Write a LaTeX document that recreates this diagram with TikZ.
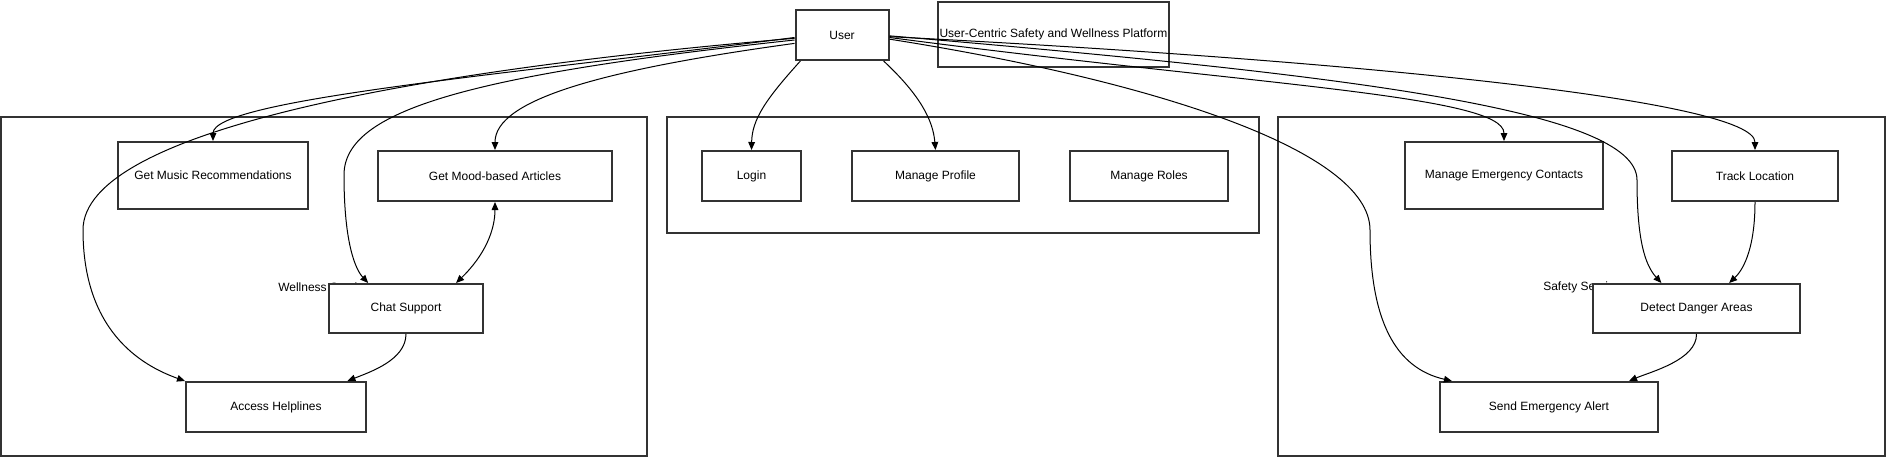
\documentclass[tikz,border=0pt]{standalone}
\usepackage{fontspec}
\setmainfont{Liberation Sans}
\usetikzlibrary{arrows.meta,positioning}
\definecolor{boxgray}{HTML}{333333}

\begin{document}
\begin{tikzpicture}[
x=0.75pt, y=-0.75pt,
node distance=36.75pt,
every node/.style={font=\fontsize{9pt}{11pt}\selectfont},
dims/.style 2 args={minimum width=#1*0.75pt, minimum height=#2*0.75pt},
group/.style={draw=boxgray, line width=1.5pt, inner sep=0pt},
svc/.style={draw=boxgray, line width=1.5pt, fill=white, align=center, inner sep=0pt},
tag/.style={anchor=west, inner sep=0pt},
arrow/.style={-{Triangle[length=6pt,width=5pt]}, line width=0.75pt},
both/.style={{Triangle[length=6pt,width=5pt]}-{Triangle[length=6pt,width=5pt]}, line width=0.75pt}
]
\useasboundingbox (0,0) rectangle (1886,458);

\node[group, dims={646}{339}] (wellness) at (324,286.5) {};
\node[group, dims={592}{116}] (core) at (963,175) {};
\node[group, dims={607}{339}] (safety) at (1581.5,286.5) {};
\node[tag] (welltag) at (278,287) {Wellness Services};
\node[tag] (safetag) at (1543,287) {Safety Services};

\node[svc, dims={93}{50}] (user) at (842,35) {User};
\node[svc, dims={231}{65}] (title) at (1053.5,34.5) {User-Centric Safety and Wellness Platform};

\node[svc, dims={190}{67}] (music) at (213,175.5) {Get Music Recommendations};
\node[svc, dims={234}{50}] (mood) at (495,176) {Get Mood-based Articles};
\node[svc, dims={154}{49}] (chat) at (406,308.5) {Chat Support};
\node[svc, dims={180}{50}] (helplines) at (276,407) {Access Helplines};

\node[svc, dims={99}{50}] (login) at (751.5,176) {Login};
\node[svc, dims={167}{50}, right=of login] (profile) {Manage Profile};
\node[svc, dims={158}{50}, right=of profile] (roles) {Manage Roles};

\node[svc, dims={198}{67}] (contacts) at (1504,175.5) {Manage Emergency Contacts};
\node[svc, dims={166}{50}] (track) at (1755,176) {Track Location};
\node[svc, dims={207}{49}] (detect) at (1696.5,308.5) {Detect Danger Areas};
\node[svc, dims={218}{50}] (alert) at (1549,407) {Send Emergency Alert};

\draw[arrow] (user.183) .. controls (500,75) and (213,100) .. (music.north);
\draw[arrow] (user.184) .. controls (420,70) and (83,130) .. (83,230) .. controls (83,330) and (140,365) .. (helplines.north west);
\draw[arrow] (user.186) .. controls (470,75) and (344,110) .. (344,175) .. controls (344,245) and (356,270) .. (chat.146);
\draw[arrow] (user.190) .. controls (600,70) and (495,100) .. (mood.north);
\draw[arrow] (user.212) .. controls (765,100) and (752,120) .. (login.north);
\draw[arrow] (user.328) .. controls (920,95) and (933,120) .. (profile.north);
\draw[arrow] (user.357) .. controls (1250,85) and (1504,95) .. (contacts.north);
\draw[arrow] (user.358) .. controls (1350,60) and (1755,100) .. (track.north);
\draw[arrow] (user.359) .. controls (1350,75) and (1637,110) .. (1637,180) .. controls (1637,240) and (1645,265) .. (detect.144);
\draw[arrow] (user.355) .. controls (1150,80) and (1370,150) .. (1370,230) .. controls (1370,320) and (1395,368) .. (alert.165);
\draw[both] (chat.27) .. controls (485,255) and (495,230) .. (mood.south);
\draw[arrow] (chat.south) .. controls (406,360) and (370,372) .. (helplines.20);
\draw[arrow] (track.south) .. controls (1755,245) and (1745,268) .. (detect.38);
\draw[arrow] (detect.south) .. controls (1697,360) and (1650,372) .. (alert.18);
\end{tikzpicture}
\end{document}
